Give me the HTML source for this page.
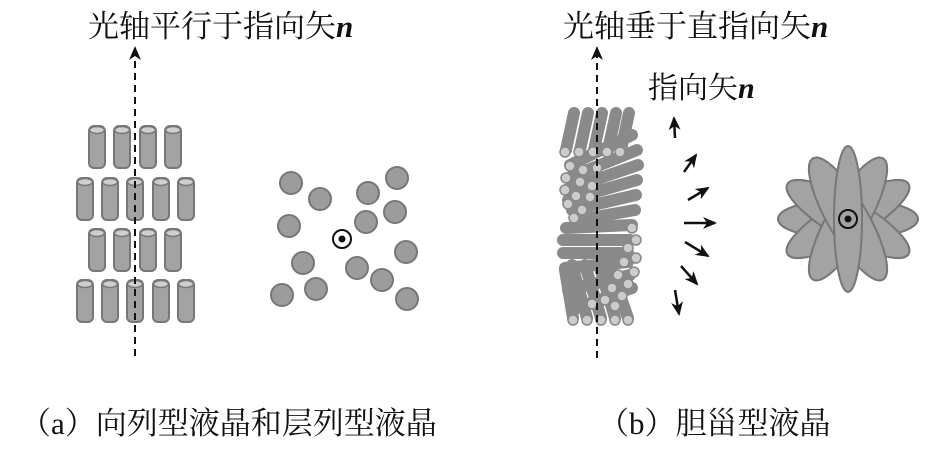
<!DOCTYPE html>
<html><head><meta charset="utf-8"><style>
body{margin:0;background:#fff;width:925px;height:449px;overflow:hidden}
svg{display:block}
text{font-family:"Liberation Serif","Noto Serif CJK SC",serif;fill:#111}
</style></head><body>
<svg width="925" height="449" viewBox="0 0 925 449">
<defs>
<g id="cyl"><rect x="-8" y="0" width="16" height="42" rx="5" fill="#a3a3a3" stroke="#777" stroke-width="2"/><ellipse cx="0" cy="4" rx="7.5" ry="3.5" fill="#cfcfcf" stroke="#777" stroke-width="1.5"/></g>
<marker id="ah" markerWidth="14" markerHeight="12" refX="12" refY="6" orient="auto" markerUnits="userSpaceOnUse"><path d="M0,0 L14,6 L0,12 L4,6z" fill="#111"/></marker>
</defs>
<text x="88" y="37" font-size="31">光轴平行于指向矢<tspan font-weight="bold" font-style="italic">n</tspan></text>
<text x="563" y="37" font-size="31">光轴垂于直指向矢<tspan font-weight="bold" font-style="italic">n</tspan></text>
<text x="648" y="98" font-size="30">指向矢<tspan font-weight="bold" font-style="italic">n</tspan></text>
<text x="20" y="434" font-size="31">（a）向列型液晶和层列型液晶</text>
<text x="598" y="434" font-size="31">（b）胆甾型液晶</text>
<g>
<use href="#cyl" x="97" y="126"/><use href="#cyl" x="122" y="126"/><use href="#cyl" x="148" y="126"/><use href="#cyl" x="173" y="126"/>
<use href="#cyl" x="85" y="178"/><use href="#cyl" x="110" y="178"/><use href="#cyl" x="135" y="178"/><use href="#cyl" x="161" y="178"/><use href="#cyl" x="186" y="178"/>
<use href="#cyl" x="97" y="229"/><use href="#cyl" x="122" y="229"/><use href="#cyl" x="148" y="229"/><use href="#cyl" x="173" y="229"/>
<use href="#cyl" x="85" y="280"/><use href="#cyl" x="110" y="280"/><use href="#cyl" x="135" y="280"/><use href="#cyl" x="161" y="280"/><use href="#cyl" x="186" y="280"/>
</g>
<line x1="135" y1="356" x2="135" y2="48" stroke="#111" stroke-width="2" stroke-dasharray="7,5" marker-end="url(#ah)"/>
<g fill="#9c9c9c" stroke="#777" stroke-width="2">
<circle cx="291" cy="183" r="11"/><circle cx="320" cy="199" r="11"/><circle cx="368" cy="193" r="11"/><circle cx="397" cy="178" r="11"/>
<circle cx="289" cy="226" r="11"/><circle cx="366" cy="222" r="11"/><circle cx="395" cy="212" r="11"/><circle cx="406" cy="252" r="11"/>
<circle cx="303" cy="263" r="11"/><circle cx="357" cy="268" r="11"/><circle cx="382" cy="280" r="11"/><circle cx="316" cy="289" r="11"/>
<circle cx="282" cy="295" r="11"/><circle cx="407" cy="299" r="11"/>
</g>
<circle cx="342" cy="239" r="9" fill="#fff" stroke="#111" stroke-width="2"/><circle cx="342" cy="239" r="3.5" fill="#111"/>
<g stroke-linecap="round">
<g stroke-width="12" stroke="#8a8a8a">
<line x1="574" y1="113" x2="566" y2="150"/><line x1="588" y1="113" x2="580" y2="150"/><line x1="602" y1="113" x2="594" y2="150"/><line x1="616" y1="113" x2="608" y2="150"/><line x1="629" y1="113" x2="621" y2="150"/>
<line x1="632" y1="135" x2="570" y2="165"/><line x1="637" y1="150" x2="568" y2="178"/><line x1="638" y1="165" x2="566" y2="190"/><line x1="637" y1="180" x2="568" y2="200"/><line x1="636" y1="195" x2="572" y2="210"/>
<line x1="635" y1="210" x2="578" y2="220"/><line x1="632" y1="225" x2="566" y2="228"/><line x1="630" y1="240" x2="563" y2="240"/><line x1="628" y1="253" x2="563" y2="253"/>
<line x1="628" y1="262" x2="565" y2="268"/><line x1="630" y1="275" x2="568" y2="290"/><line x1="632" y1="288" x2="572" y2="310"/>
<line x1="565" y1="270" x2="573" y2="318"/><line x1="572" y1="265" x2="587" y2="318"/><line x1="585" y1="265" x2="601" y2="318"/><line x1="600" y1="268" x2="615" y2="318"/><line x1="612" y1="272" x2="628" y2="318"/>
</g>
<g fill="#ccc" stroke="#888" stroke-width="1.5">
<circle cx="565" cy="152" r="5"/><circle cx="579" cy="152" r="5"/><circle cx="593" cy="152" r="5"/><circle cx="607" cy="152" r="5"/><circle cx="620" cy="152" r="5"/>
<circle cx="570" cy="166" r="5"/><circle cx="583" cy="170" r="5"/><circle cx="597" cy="168" r="5"/><circle cx="566" cy="178" r="5"/><circle cx="580" cy="182" r="5"/><circle cx="592" cy="186" r="5"/>
<circle cx="565" cy="190" r="5"/><circle cx="576" cy="196" r="5"/><circle cx="590" cy="197" r="5"/><circle cx="568" cy="204" r="5"/><circle cx="582" cy="210" r="5"/><circle cx="574" cy="218" r="5"/>
<circle cx="632" cy="228" r="5"/><circle cx="636" cy="240" r="5"/><circle cx="628" cy="248" r="5"/><circle cx="636" cy="258" r="5"/><circle cx="624" cy="262" r="5"/><circle cx="634" cy="272" r="5"/>
<circle cx="618" cy="275" r="5"/><circle cx="628" cy="284" r="5"/><circle cx="612" cy="288" r="5"/><circle cx="622" cy="296" r="5"/><circle cx="605" cy="300" r="5"/><circle cx="592" cy="304" r="5"/><circle cx="615" cy="306" r="5"/>
<circle cx="573" cy="320" r="5"/><circle cx="587" cy="320" r="5"/><circle cx="601" cy="320" r="5"/><circle cx="615" cy="320" r="5"/><circle cx="628" cy="320" r="5"/>
</g>
</g>
<line x1="597" y1="358" x2="597" y2="48" stroke="#111" stroke-width="2" stroke-dasharray="7,5" marker-end="url(#ah)"/>
<g stroke="#111" stroke-width="2.5" marker-end="url(#ah)">
<line x1="675" y1="138" x2="674" y2="118"/>
<line x1="684" y1="172" x2="696" y2="155"/>
<line x1="688" y1="200" x2="708" y2="188"/>
<line x1="684" y1="223" x2="715" y2="223"/>
<line x1="685" y1="242" x2="708" y2="256"/>
<line x1="681" y1="266" x2="697" y2="284"/>
<line x1="675" y1="290" x2="679" y2="314"/>
</g>
<g fill="#a3a3a3" stroke="#777" stroke-width="2" transform="translate(848,219)">
<ellipse rx="20" ry="70" transform="rotate(90)"/>
<ellipse rx="20" ry="70" transform="rotate(60)"/>
<ellipse rx="20" ry="70" transform="rotate(120)"/>
<ellipse rx="20" ry="70" transform="rotate(30)"/>
<ellipse rx="20" ry="70" transform="rotate(150)"/>
<ellipse rx="14" ry="73"/>
</g>
<circle cx="848" cy="219" r="9" fill="none" stroke="#111" stroke-width="2"/><circle cx="848" cy="219" r="3.5" fill="#111"/>
</svg>
</body></html>
